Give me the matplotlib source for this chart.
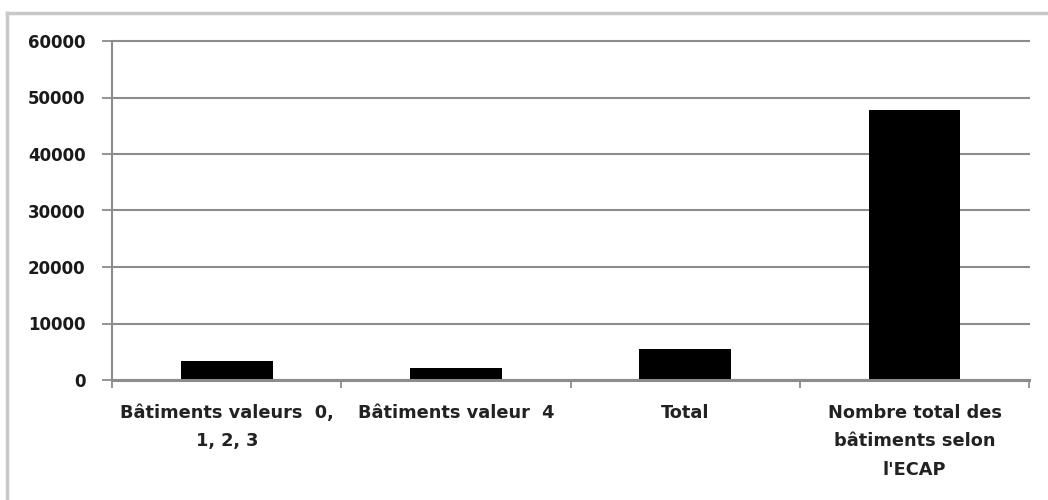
import matplotlib
matplotlib.use("Agg")
import matplotlib.pyplot as plt
from matplotlib.lines import Line2D

categories = ["Bâtiments valeurs  0,\n1, 2, 3", "Bâtiments valeur  4", "Total",
              "Nombre total des\nbâtiments selon\nl'ECAP"]
values = [3300, 2150, 5450, 47800]
yticks = [0, 10000, 20000, 30000, 40000, 50000, 60000]

plt.rcParams['font.family'] = ['DejaVu Sans']

fig = plt.figure(figsize=(10.48, 5.0), dpi=100)
ax = fig.add_axes([0.107, 0.24, 0.875, 0.678])

x = list(range(len(categories)))
ax.bar(x, values, width=0.40, color='black', zorder=3)

ax.set_xlim(-0.5, len(categories) - 0.5)
ax.set_ylim(0, 60000)
ax.set_yticks(yticks)
ax.set_yticklabels([str(v) for v in yticks], fontsize=12, fontweight='bold', color='#1a1a1a')
ax.yaxis.grid(True, color='#8c8c8c', linewidth=1.5, zorder=0)
for gl in ax.get_ygridlines():
    gl.set_clip_on(False)
ax.tick_params(axis='y', length=7, width=1.3, color='#8c8c8c', pad=12)

ax.set_xticks(x)
ax.set_xticklabels(categories, fontsize=12.8, fontweight='bold', color='#222222',
                   linespacing=1.75)
ax.set_xticks([i - 0.5 for i in range(len(categories) + 1)], minor=True)
ax.tick_params(axis='x', which='major', length=0, pad=17)
ax.tick_params(axis='x', which='minor', length=6, width=1.3, color='#8c8c8c')

for s in ['top', 'right']:
    ax.spines[s].set_visible(False)
ax.spines['left'].set_color('#8c8c8c')
ax.spines['left'].set_linewidth(1.5)
ax.spines['bottom'].set_color('#8c8c8c')
ax.spines['bottom'].set_linewidth(2.2)
ax.spines['bottom'].set_zorder(4)

# outer chart border (left and top visible)
fig.add_artist(Line2D([7/1048, 7/1048], [0, 1 - 13/500], transform=fig.transFigure,
                      color='#c8c8c8', linewidth=2.5))
fig.add_artist(Line2D([7/1048, 1], [1 - 13/500, 1 - 13/500], transform=fig.transFigure,
                      color='#c8c8c8', linewidth=2.5))

fig.savefig("out.png", dpi=100, facecolor='white')
